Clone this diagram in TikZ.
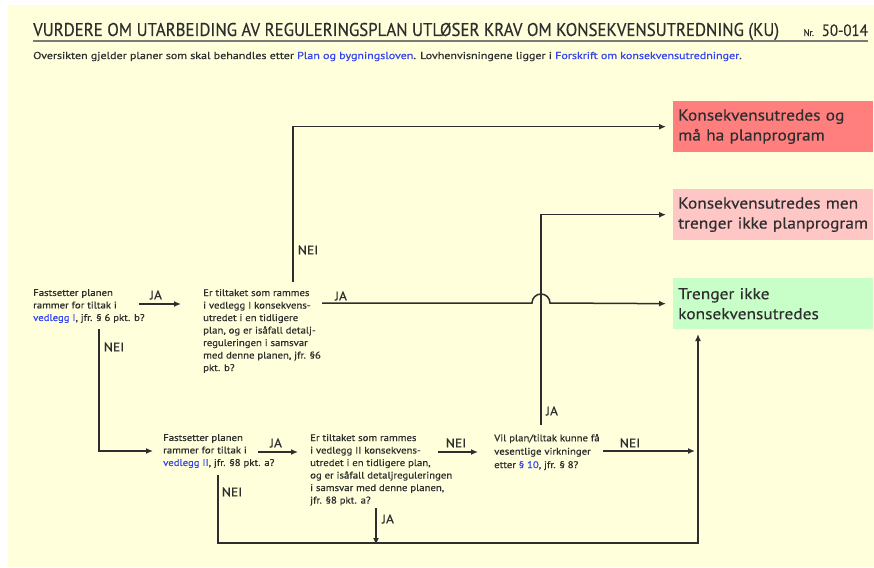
\documentclass[tikz,border=0pt]{standalone}
\usepackage{fontspec}
\setmainfont{PT Sans}
\newfontfamily\titlefont{PT Sans}[FakeStretch=0.91, FakeBold=0.4]
\newfontfamily\bodyfont{PT Sans}[FakeStretch=1.12, FakeBold=0.6]
\newfontfamily\subfont{PT Sans}[FakeStretch=1.2, FakeBold=0.6]
\newfontfamily\boxfont{PT Sans}[FakeStretch=1.1, FakeBold=0.4]
\newfontfamily\lblfont{PT Sans}[FakeStretch=1.08, FakeBold=0.6]
\usetikzlibrary{arrows.meta}
\definecolor{bg}{HTML}{FFFFDC}
\definecolor{ln}{HTML}{2E2E2E}
\definecolor{lnk}{HTML}{3344EE}
\definecolor{boxred}{HTML}{FF7F7F}
\definecolor{boxpink}{HTML}{FFC6C6}
\definecolor{boxgreen}{HTML}{C8FFC8}
\definecolor{rule}{HTML}{7A7A78}
\begin{document}
\begin{tikzpicture}[x=1pt,y=-1pt,
  txt/.style={anchor=north west, inner sep=0, align=left, text=ln, font=\bodyfont\fontsize{9.6}{12.5}\selectfont},
  res/.style={anchor=north west, inner xsep=5pt, inner ysep=0, text width=190pt, minimum height=51pt, align=left, text=ln, font=\boxfont\fontsize{15.8}{20}\selectfont},
  lbl/.style={inner sep=0, text=ln, font=\lblfont\fontsize{12.6}{13}\selectfont},
  con/.style={draw=ln, line width=1.5pt},
  arr/.style={con, -{Latex[length=7pt,width=6pt]}},
]
\useasboundingbox (0,0) rectangle (874,567);
\fill[bg] (8,5) rectangle (874,567);

% header
\node[anchor=base west, inner sep=0, text=ln, font=\titlefont\fontsize{18.5}{20}\selectfont] (title) at (33,36)
  {VURDERE OM UTARBEIDING AV REGULERINGSPLAN UTLØSER KRAV OM KONSEKVENSUTREDNING (KU)};
\node[anchor=base east, inner sep=0, text=ln, font=\titlefont] (nr) at (868,36)
  {{\fontsize{9.5}{10}\selectfont Nr.}\hspace{8pt}{\fontsize{16.4}{17}\selectfont 50-014}};
\draw[rule, line width=2.2pt] (33,41) -- (868,41);
\node[anchor=base west, inner sep=0, text=ln, font=\subfont\fontsize{10}{11}\selectfont] (sub) at (33,59)
  {Oversikten gjelder planer som skal behandles etter \textcolor{lnk}{Plan og bygningsloven}. Lovhenvisningene ligger i \textcolor{lnk}{Forskrift om konsekvensutredninger}.};

% result boxes
\node[res, fill=boxred] (boxR) at (673,101) {Konsekvensutredes og\\må ha planprogram};
\node[res, fill=boxpink] (boxP) at (673,189) {Konsekvensutredes men\\trenger ikke planprogram};
\node[res, fill=boxgreen] (boxG) at (673,278) {Trenger ikke\\konsekvensutredes};

% questions
\node[txt] (qA) at (33,289) {Fastsetter planen\\rammer for tiltak i\\\textcolor{lnk}{vedlegg I}, jfr. § 6 pkt. b?};
\node[txt] (qB) at (203,289) {Er tiltaket som rammes\\i vedlegg I konsekvens-\\utredet i en tidligere\\plan, og er isåfall detalj-\\reguleringen i samsvar\\med denne planen, jfr. §6\\pkt. b?};
\node[txt] (qC) at (163,434) {Fastsetter planen\\rammer for tiltak i\\\textcolor{lnk}{vedlegg II}, jfr. §8 pkt. a?};
\node[txt] (qD) at (310,434) {Er tiltaket som rammes\\i vedlegg II konsekvens-\\utredet i en tidligere plan,\\og er isåfall detaljreguleringen\\i samsvar med denne planen,\\jfr. §8 pkt. a?};
\node[txt, font=\bodyfont\fontsize{9.6}{13.4}\selectfont] (qE) at (494,434) {Vil plan/tiltak kunne få\\vesentlige virkninger\\etter \textcolor{lnk}{§ 10}, jfr. § 8?};

% connector end points
\coordinate (aJa) at (139,304);  \coordinate (bIn) at (181,304);
\coordinate (aNei) at (99,329);  \coordinate (cIn) at (153,451);
\coordinate (bNei) at (293,282);
\coordinate (bJa) at (322,303);
\coordinate (cJa) at (258,452);  \coordinate (dIn) at (298,452);
\coordinate (dNei) at (438,452); \coordinate (eIn) at (478,452);
\coordinate (cNei) at (218,475); \coordinate (bot) at (698,543);
\coordinate (dJa) at (376,508);
\coordinate (eNei) at (603,451); \coordinate (eOut) at (695,451);
\coordinate (eJa) at (541,425);
\coordinate (gIn) at (698,328);

% connectors
\draw[arr] (aJa) -- (bIn);
\draw[arr] (aNei) |- (cIn);
\draw[arr, shorten >=7pt] (bNei) |- (boxR.west);
\draw[arr, shorten >=7pt] (bJa) -- ([xshift=-9pt]eJa |- bJa) arc[start angle=180, end angle=360, radius=9] -- (boxG.west);
\draw[arr] (cJa) -- (dIn);
\draw[arr] (dNei) -- (eIn);
\draw[arr, shorten >=6pt] (cNei) |- (bot) -- (gIn);
\draw[arr] (dJa) -- ([yshift=-2]dJa |- bot);
\draw[arr] (eNei) -- (eOut);
\draw[arr, shorten >=7pt] (eJa) |- (boxP.west);

% labels
\node[lbl] (lA1) at (156,295) {JA};
\node[lbl] (lA2) at (114,347) {NEI};
\node[lbl] (lB1) at (308,250) {NEI};
\node[lbl] (lB2) at (341,296) {JA};
\node[lbl] (lC1) at (276,443) {JA};
\node[lbl] (lC2) at (232,492) {NEI};
\node[lbl] (lD1) at (456,443) {NEI};
\node[lbl] (lD2) at (388,519) {JA};
\node[lbl] (lE1) at (552,411) {JA};
\node[lbl] (lE2) at (630,443) {NEI};
\end{tikzpicture}
\end{document}
